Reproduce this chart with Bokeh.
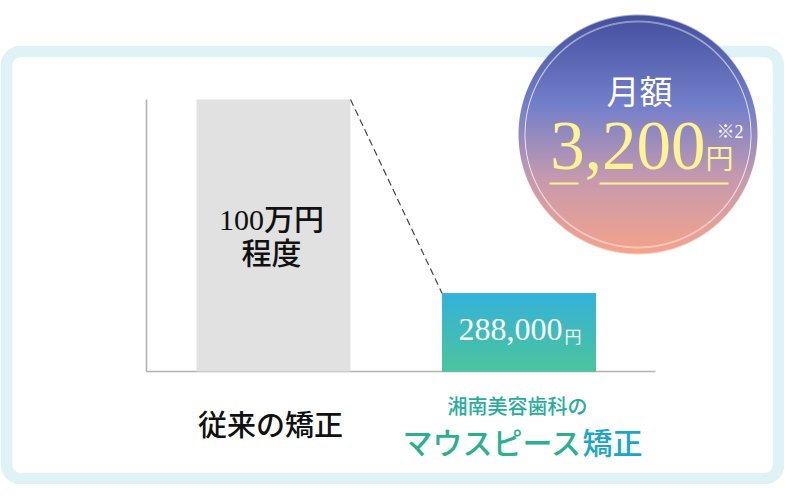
import numpy as np
from bokeh.plotting import figure
from bokeh.models import Range1d, BoxAnnotation, ColumnDataSource
from bokeh.core.properties import value
from bokeh.embed import file_html
from bokeh.resources import INLINE

# ---------------- data ----------------
categories = ["従来の矯正", "マウスピース矯正"]
category_sub = ["", "湘南美容歯科の"]
prices = [1000000, 288000]
price_text = ["100万円", "288,000"]
price_text2 = ["程度", ""]
price_unit = ["", "円"]
axis_max = 1000000
monthly_title = "月額"
monthly_value = "3,200"
monthly_unit = "円"
monthly_note = "※2"
bar_colors = ["#e1e1e1", "#40bcbc"]

# ---------------- layout ----------------
W, H = 784, 484
OFF = 0


def X(rx):
    return rx - OFF


def Y(ry):
    return H + OFF - ry


BASE_PX, TOP_PX = 371, 99          # pixel rows of 0 and axis_max
px_per_val = (BASE_PX - TOP_PX) / axis_max
y_start = -Y(BASE_PX) / px_per_val
y_end = y_start + H / px_per_val
C0, STEP = 273.0, 245.5
x_start = (OFF - C0) / STEP
x_end = (OFF + W - C0) / STEP
BW = 154 / STEP
AX_L = (146 - C0) / STEP
AX_R = (655 - C0) / STEP

p = figure(width=W, height=H, x_range=Range1d(x_start, x_end), y_range=Range1d(y_start, y_end),
           output_backend="svg", toolbar_location=None, x_axis_location=None, y_axis_location=None,
           min_border=0, min_border_left=0, min_border_right=0, min_border_top=0, min_border_bottom=0)
p.grid.visible = False
p.outline_line_color = None
p.background_fill_color = "white"
p.border_fill_color = "white"
p.extra_x_ranges = {"px": Range1d(0, W)}
p.extra_y_ranges = {"px": Range1d(0, H)}
PX = dict(x_range_name="px", y_range_name="px")

# rounded frame
p.add_layout(BoxAnnotation(left=X(6), right=X(778), bottom=Y(478.2), top=Y(51), fill_color=None, fill_alpha=0,
                           line_color="#dff2f6", line_alpha=1.0, line_width=11.5, border_radius=14,
                           level="underlay", **PX))

# axis lines
p.segment(x0=[AX_L, AX_L], y0=[0, 0], x1=[AX_L, AX_R], y1=[axis_max, 0], line_color="#b3b3b3", line_width=1.6)

# bars
xs = list(range(len(prices)))
src = ColumnDataSource(dict(x=xs, top=prices, color=bar_colors))
p.vbar(x="x", top="top", width=BW, fill_color="color", line_color=None, source=src)


def hex2rgb(h):
    h = h.lstrip("#")
    return np.array([int(h[i:i + 2], 16) for i in (0, 2, 4)], dtype=float)


def pack(rgb, a):
    hgt, wid = a.shape
    img = np.empty((hgt, wid), dtype=np.uint32)
    v = img.view(dtype=np.uint8).reshape((hgt, wid, 4))
    v[:, :, 0:3] = np.clip(rgb, 0, 255).astype(np.uint8)
    v[:, :, 3] = np.clip(a * 255, 0, 255).astype(np.uint8)
    return img


# gradient on the second bar (row 0 = bottom)
n = 80
t = np.linspace(0, 1, n)[:, None, None]
grad = hex2rgb("#4bc59e") * (1 - t) + hex2rgb("#35b2da") * t
grad = np.repeat(grad, 2, axis=1)
p.image_rgba(image=[pack(grad, np.ones((n, 2)))], x=xs[1] - BW / 2, y=0, dw=BW, dh=prices[1])

# dashed connector
p.segment(x0=[xs[0] + BW / 2], y0=[prices[0]], x1=[xs[1] - BW / 2], y1=[prices[1]],
          line_color="#444444", line_width=1.2, line_dash="7 4")

# monthly badge circle
CX, CY, R, RR = 637.5, 134.0, 119.5, 113.0
S = 244
jj, ii = np.meshgrid(np.arange(S), np.arange(S))
rx = CX - S / 2 + jj + 0.5
ry = CY + S / 2 - (ii + 0.5)
dist = np.hypot(rx - CX, ry - CY)
alpha = np.clip(R - dist + 0.5, 0, 1)
tt = np.clip((ry - (CY - R)) / (2 * R), 0, 1)
stops = [(0.0, "#44509d"), (0.38, "#7480cb"), (0.68, "#c69aaf"), (1.0, "#f6a38c")]
rgb = np.zeros((S, S, 3))
for (a0, c0), (a1, c1) in zip(stops[:-1], stops[1:]):
    m = (tt >= a0) & (tt <= a1)
    f = ((tt - a0) / (a1 - a0))[..., None]
    col = hex2rgb(c0) * (1 - f) + hex2rgb(c1) * f
    rgb[m] = col[m]
ring = np.clip(1.0 - np.abs(dist - RR) / 0.9, 0, 1)[..., None] * 0.85
rgb = rgb * (1 - ring) + 255 * ring
p.image_rgba(image=[pack(rgb, alpha)], x=X(CX - S / 2), y=Y(CY + S / 2), dw=S, dh=S, **PX)

SERIF = value("'Liberation Serif', 'Noto Sans CJK JP Medium', 'Noto Sans CJK JP'")
SANS = value("'Noto Sans CJK JP'")
SANS_M = value("'Noto Sans CJK JP Medium', 'Noto Sans CJK JP'")
YEL = "#fff491"

p.text(x=[X(639)], y=[Y(89)], text=[monthly_title], text_font=SANS, text_font_size="33px",
       text_color="white", text_align="center", text_baseline="middle", **PX)
p.text(x=[X(705)], y=[Y(145)], text=[monthly_value], text_font=SERIF, text_font_size="69px",
       text_color=YEL, text_align="right", text_baseline="middle", **PX)
p.text(x=[X(705)], y=[Y(156)], text=[monthly_unit], text_font=SANS, text_font_size="28px",
       text_color=YEL, text_align="left", text_baseline="middle", **PX)
p.text(x=[X(716)], y=[Y(131)], text=[monthly_note], text_font=SERIF, text_font_size="18px",
       text_color="white", text_align="left", text_baseline="middle", **PX)
p.segment(x0=[X(549), X(599)], y0=[Y(183), Y(183)], x1=[X(578), X(728)], y1=[Y(183), Y(183)],
          line_color=YEL, line_width=2, **PX)

# bar labels
p.text(x=[X(271), X(271)], y=[Y(219), Y(253)], text=[price_text[0], price_text2[0]], text_font=SERIF,
       text_font_size="30px", text_color="#111111", text_align="center", text_baseline="middle", **PX)
p.text(x=[X(562)], y=[Y(329)], text=[price_text[1]], text_font=SERIF, text_font_size="32px",
       text_color="white", text_align="right", text_baseline="middle", **PX)
p.text(x=[X(564)], y=[Y(335)], text=[price_unit[1]], text_font=SANS, text_font_size="17px",
       text_color="white", text_align="left", text_baseline="middle", **PX)

# category labels
p.text(x=[X(270)], y=[Y(422)], text=[categories[0]], text_font=SANS_M, text_font_size="29px",
       text_color="#111111", text_align="center", text_baseline="middle", **PX)
p.text(x=[X(517)], y=[Y(405)], text=[category_sub[1]], text_font=SANS_M, text_font_size="20px",
       text_color="#27ad9c", text_align="center", text_baseline="middle", **PX)
main = categories[1]
p.text(x=[X(582)], y=[Y(440)], text=[main[:-2]], text_font=SANS_M, text_font_size="30px",
       text_color="#2ab08f", text_align="right", text_baseline="middle", **PX)
p.text(x=[X(582)], y=[Y(440)], text=[main[-2:]], text_font=SANS_M, text_font_size="30px",
       text_color="#1ca5cb", text_align="left", text_baseline="middle", **PX)

open("out.html", "w").write(file_html(p, INLINE))
